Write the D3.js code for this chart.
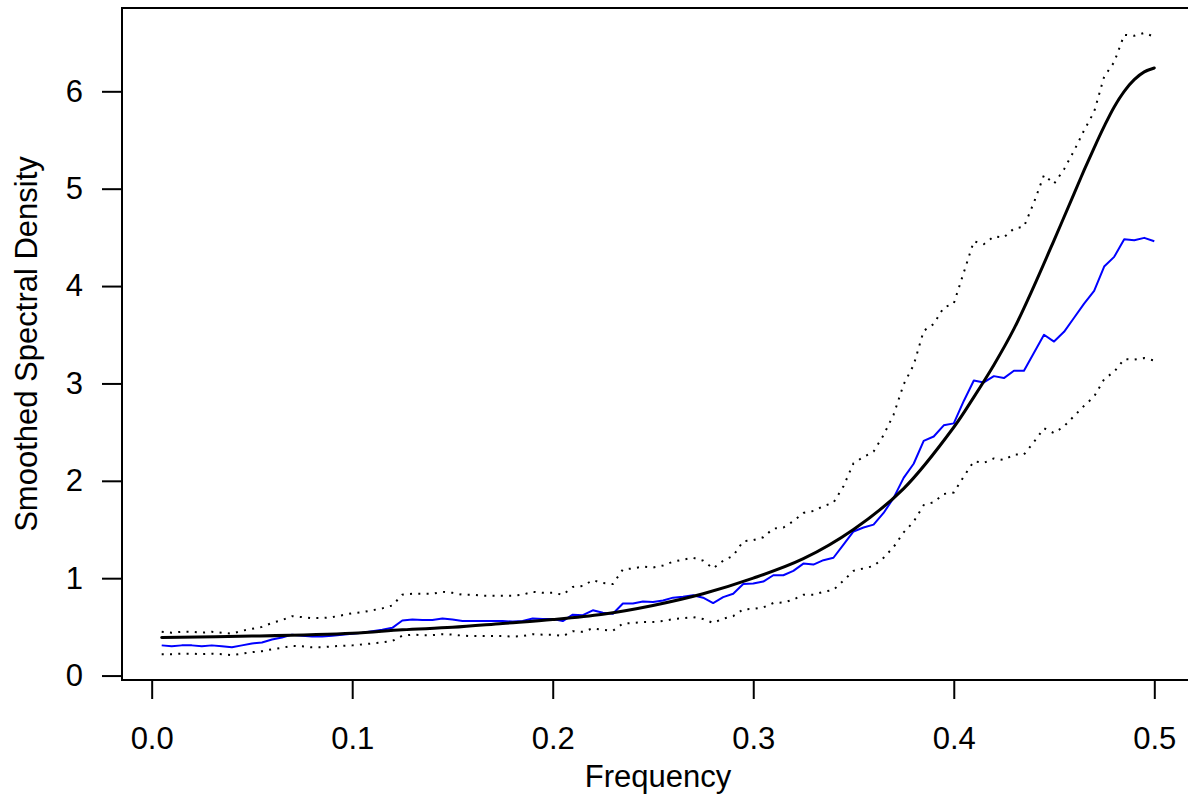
<!DOCTYPE html>
<html>
<head>
<meta charset="utf-8">
<script src="https://cdn.jsdelivr.net/npm/d3@7"></script>
<style>
  body { margin: 0; background: #fff; }
  text { font-family: "Liberation Sans", Arial, Helvetica, sans-serif; }
</style>
</head>
<body>
<div id="grafica"></div>
<script>
// Frecuencias (eje x)
const freq = [
  0.005, 0.010, 0.015, 0.020, 0.025, 0.030, 0.035, 0.040, 0.045, 0.050,
  0.055, 0.060, 0.065, 0.070, 0.075, 0.080, 0.085, 0.090, 0.095, 0.100,
  0.105, 0.110, 0.115, 0.120, 0.125, 0.130, 0.135, 0.140, 0.145, 0.150,
  0.155, 0.160, 0.165, 0.170, 0.175, 0.180, 0.185, 0.190, 0.195, 0.200,
  0.205, 0.210, 0.215, 0.220, 0.225, 0.230, 0.235, 0.240, 0.245, 0.250,
  0.255, 0.260, 0.265, 0.270, 0.275, 0.280, 0.285, 0.290, 0.295, 0.300,
  0.305, 0.310, 0.315, 0.320, 0.325, 0.330, 0.335, 0.340, 0.345, 0.350,
  0.355, 0.360, 0.365, 0.370, 0.375, 0.380, 0.385, 0.390, 0.395, 0.400,
  0.405, 0.410, 0.415, 0.420, 0.425, 0.430, 0.435, 0.440, 0.445, 0.450,
  0.455, 0.460, 0.465, 0.470, 0.475, 0.480, 0.485, 0.490, 0.495, 0.500
]

// Espectro suavizado (azul)
const smoothed = [
  0.31, 0.30, 0.31, 0.31, 0.30, 0.31, 0.30, 0.29, 0.31, 0.33,
  0.34, 0.37, 0.39, 0.42, 0.41, 0.40, 0.40, 0.41, 0.42, 0.43,
  0.44, 0.455, 0.47, 0.49, 0.565, 0.575, 0.57, 0.57, 0.585, 0.575,
  0.56, 0.56, 0.56, 0.56, 0.56, 0.555, 0.56, 0.585, 0.58, 0.58,
  0.56, 0.625, 0.62, 0.67, 0.645, 0.635, 0.74, 0.74, 0.76, 0.755,
  0.77, 0.80, 0.81, 0.825, 0.80, 0.745, 0.805, 0.84, 0.94, 0.945,
  0.965, 1.03, 1.03, 1.075, 1.15, 1.14, 1.185, 1.21, 1.345, 1.48,
  1.52, 1.55, 1.67, 1.825, 2.03, 2.175, 2.41, 2.455, 2.57, 2.59,
  2.82, 3.03, 3.01, 3.075, 3.055, 3.13, 3.13, 3.315, 3.50, 3.43,
  3.53, 3.675, 3.82, 3.95, 4.20, 4.30, 4.48, 4.47, 4.495, 4.46
]

// Banda superior (punteada)
const upper = [
  0.45, 0.44, 0.45, 0.45, 0.44, 0.45, 0.44, 0.43, 0.46, 0.48,
  0.50, 0.54, 0.57, 0.61, 0.60, 0.59, 0.59, 0.60, 0.62, 0.64,
  0.65, 0.67, 0.69, 0.72, 0.83, 0.84, 0.84, 0.84, 0.86, 0.85,
  0.83, 0.83, 0.82, 0.82, 0.82, 0.82, 0.83, 0.86, 0.85, 0.85,
  0.83, 0.91, 0.92, 0.98, 0.95, 0.94, 1.09, 1.10, 1.12, 1.11,
  1.13, 1.17, 1.19, 1.21, 1.18, 1.10, 1.18, 1.23, 1.38, 1.39,
  1.42, 1.51, 1.52, 1.585, 1.67, 1.69, 1.74, 1.775, 1.945, 2.18,
  2.245, 2.30, 2.47, 2.68, 2.99, 3.19, 3.54, 3.61, 3.78, 3.82,
  4.14, 4.46, 4.43, 4.51, 4.50, 4.59, 4.61, 4.86, 5.14, 5.05,
  5.20, 5.39, 5.60, 5.79, 6.15, 6.30, 6.58, 6.57, 6.60, 6.56
]

// Banda inferior (punteada)
const lower = [
  0.22, 0.22, 0.225, 0.225, 0.22, 0.225, 0.22, 0.21, 0.225, 0.24,
  0.25, 0.27, 0.285, 0.305, 0.30, 0.29, 0.29, 0.30, 0.305, 0.31,
  0.32, 0.33, 0.34, 0.355, 0.41, 0.42, 0.415, 0.415, 0.425, 0.42,
  0.41, 0.405, 0.405, 0.405, 0.405, 0.40, 0.405, 0.425, 0.42, 0.42,
  0.405, 0.455, 0.45, 0.485, 0.47, 0.46, 0.535, 0.54, 0.55, 0.55,
  0.56, 0.58, 0.59, 0.60, 0.58, 0.54, 0.585, 0.61, 0.68, 0.685,
  0.70, 0.745, 0.75, 0.78, 0.83, 0.83, 0.86, 0.88, 0.975, 1.075,
  1.10, 1.125, 1.21, 1.32, 1.47, 1.58, 1.75, 1.78, 1.865, 1.88,
  2.045, 2.20, 2.185, 2.23, 2.215, 2.27, 2.27, 2.40, 2.54, 2.49,
  2.56, 2.665, 2.77, 2.865, 3.045, 3.12, 3.25, 3.245, 3.26, 3.235
]

const arFreq = [0.005, 0.05, 0.1, 0.125, 0.15, 0.175, 0.2, 0.225, 0.25, 0.275,
                0.3, 0.325, 0.35, 0.375, 0.4, 0.41, 0.42, 0.43, 0.44, 0.45,
                0.46, 0.465, 0.47, 0.475, 0.48, 0.485, 0.49, 0.495, 0.5]
const arSpec = [0.39, 0.405, 0.435, 0.47, 0.495, 0.535, 0.575, 0.63, 0.72, 0.84,
                1.00, 1.20, 1.50, 1.92, 2.55, 2.86, 3.19, 3.56, 4.00, 4.47,
                4.95, 5.19, 5.42, 5.64, 5.84, 6.00, 6.12, 6.20, 6.24]

const xTicks = [0, 0.1, 0.2, 0.3, 0.4, 0.5]
const yTicks = [0, 1, 2, 3, 4, 5, 6]

const draw = (el) => {
    const ancho = 1188
    const alto = 799
    const margin = { left: 122, top: 8 }
    const plotW = 1072
    const plotH = 672

    const svg = d3.select(el)
                  .append("svg")
                  .attr("width", ancho)
                  .attr("height", alto)

    // Escalas con la expansion de 4% como en R
    const xExt = d3.extent(freq)
    const xPad = (xExt[1] - xExt[0]) * 0.04
    const x = d3.scaleLinear()
                .domain([xExt[0] - xPad, xExt[1] + xPad])
                .range([margin.left, margin.left + plotW])

    const yExt = d3.extent([...smoothed, ...upper, ...lower, ...arSpec])
    const yPad = (yExt[1] - yExt[0]) * 0.04
    const y = d3.scaleLinear()
                .domain([yExt[0] - yPad, yExt[1] + yPad])
                .range([margin.top + plotH, margin.top])

    // Ejes
    const gx = svg.append("g")
                  .attr("transform", `translate(0,${margin.top + plotH})`)
                  .call(d3.axisBottom(x)
                          .tickValues(xTicks)
                          .tickFormat(d3.format(".1f"))
                          .tickSize(19)
                          .tickSizeOuter(0)
                          .tickPadding(28))
    gx.select(".domain").remove()

    const gy = svg.append("g")
                  .attr("transform", `translate(${margin.left},0)`)
                  .call(d3.axisLeft(y)
                          .tickValues(yTicks)
                          .tickFormat(d3.format("d"))
                          .tickSize(20)
                          .tickSizeOuter(0)
                          .tickPadding(19))
    gy.select(".domain").remove()

    svg.selectAll(".tick line")
       .attr("stroke", "#000")
       .attr("stroke-width", 2)
    svg.selectAll(".tick text")
       .attr("fill", "#000")
       .style("font-size", "31px")

    // Caja
    svg.append("rect")
       .attr("x", margin.left)
       .attr("y", margin.top)
       .attr("width", plotW)
       .attr("height", plotH)
       .attr("fill", "none")
       .attr("stroke", "#000")
       .attr("stroke-width", 2)

    // Lineas
    const linea = d3.line()
                    .x((d) => x(d[0]))
                    .y((d) => y(d[1]))

    const bandas = [upper, lower]
    svg.append("g")
       .selectAll("path")
       .data(bandas)
       .join("path")
       .attr("d", (serie) => linea(freq.map((f, i) => [f, serie[i]])))
       .attr("fill", "none")
       .attr("stroke", "#000")
       .attr("stroke-width", 2)
       .attr("stroke-dasharray", "2,6.3")

    svg.append("path")
       .attr("d", linea(freq.map((f, i) => [f, smoothed[i]])))
       .attr("fill", "none")
       .attr("stroke", "#0000ff")
       .attr("stroke-width", 2)
       .attr("stroke-linejoin", "round")

    const curva = d3.line()
                    .x((d) => x(d[0]))
                    .y((d) => y(d[1]))
                    .curve(d3.curveCatmullRom.alpha(0.5))

    svg.append("path")
       .attr("d", curva(arFreq.map((f, i) => [f, arSpec[i]])))
       .attr("fill", "none")
       .attr("stroke", "#000")
       .attr("stroke-width", 3)
       .attr("stroke-linecap", "round")

    // Titulos de ejes
    svg.append("text")
       .attr("x", margin.left + plotW / 2)
       .attr("y", 787)
       .attr("text-anchor", "middle")
       .style("font-size", "31px")
       .text("Frequency")

    svg.append("text")
       .attr("transform", `translate(37,${margin.top + plotH / 2}) rotate(-90)`)
       .attr("text-anchor", "middle")
       .style("font-size", "31px")
       .text("Smoothed Spectral Density")
}

draw("#grafica")
</script>
</body>
</html>
